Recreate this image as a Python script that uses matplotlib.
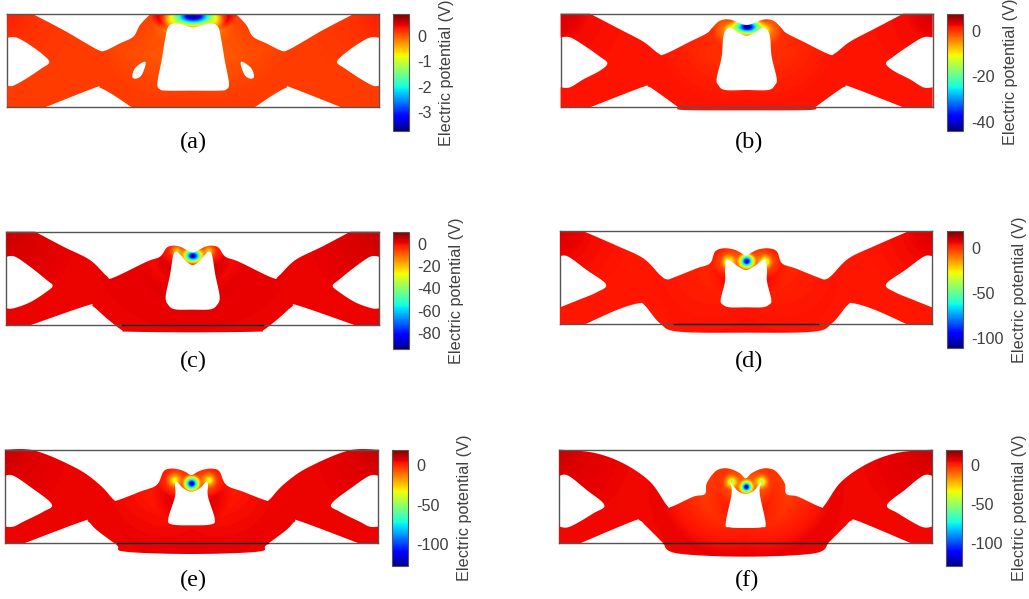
import numpy as np
import matplotlib
matplotlib.use("Agg")
import matplotlib.pyplot as plt
from matplotlib.path import Path
from matplotlib.patches import PathPatch

plt.rcParams["font.family"] = ["Liberation Sans", "DejaVu Sans"]

W, H = 1029, 599
SCALE = 3.0

names = ["(a)", "(b)", "(c)", "(d)", "(e)", "(f)"]
origins = [(0, 0), (550, 0), (0, 215), (550, 215), (0, 430), (550, 430)]
frames = [(22, 1137, 43, 322), (32, 1148, 41, 322), (19, 1137, 50, 331),
          (30, 1146, 49, 328), (15, 1134, 59, 339), (28, 1146, 59, 340)]

# left half of each shape, centre top -> around -> centre bottom
outer_a = [(580, 43), (450, 43), (420, 75), (400, 110), (360, 130), (315, 152), (295, 150), (250, 125),
           (190, 90), (100, 43), (22, 43), (22, 113), (50, 113), (90, 135), (130, 165), (148, 187),
           (125, 205), (80, 235), (40, 257), (22, 257), (22, 322), (135, 322), (285, 263), (300, 263),
           (340, 285), (395, 322), (580, 322)]
outer_b = [(590, 75), (565, 68), (545, 60), (525, 58), (505, 65), (485, 85), (470, 100), (420, 125),
           (345, 162), (325, 160), (280, 125), (210, 88), (120, 41), (32, 41), (32, 112), (60, 112),
           (100, 135), (150, 170), (172, 190), (150, 212), (100, 238), (60, 262), (32, 262), (32, 322),
           (120, 322), (275, 262), (295, 260), (320, 275), (385, 322), (400, 330), (590, 331)]
outer_c = [(578, 112), (560, 105), (540, 95), (520, 92), (500, 98), (480, 125), (440, 140), (340, 188),
           (320, 183), (270, 135), (190, 95), (105, 50), (19, 50), (19, 125), (45, 125), (90, 155),
           (140, 195), (158, 212), (140, 230), (90, 262), (40, 280), (19, 280), (19, 331), (90, 331),
           (260, 272), (280, 275), (320, 310), (365, 345), (385, 350), (578, 352)]
outer_d = [(588, 122), (570, 112), (550, 103), (520, 100), (495, 110), (480, 145), (440, 160), (370, 188),
           (350, 193), (330, 180), (280, 130), (200, 92), (115, 55), (100, 49), (30, 49), (30, 123),
           (55, 125), (110, 165), (168, 208), (140, 232), (85, 255), (30, 277), (30, 328), (105, 328),
           (200, 285), (265, 265), (285, 272), (330, 325), (385, 350), (588, 353)]
outer_e = [(574, 135), (555, 125), (535, 118), (510, 116), (490, 125), (470, 165), (420, 185), (355, 210),
           (340, 208), (300, 165), (230, 115), (105, 62), (15, 59), (15, 137), (40, 137), (90, 170),
           (155, 222), (130, 245), (70, 275), (40, 290), (15, 290), (15, 339), (75, 339), (245, 275),
           (265, 275), (290, 300), (350, 345), (375, 365), (574, 372)]
outer_f = [(587, 145), (570, 130), (545, 118), (520, 115), (495, 125), (470, 160), (465, 192), (430, 200),
           (365, 230), (350, 225), (300, 155), (220, 100), (130, 68), (28, 59), (28, 137), (55, 137),
           (110, 180), (163, 225), (130, 250), (60, 290), (28, 290), (28, 340), (90, 340), (245, 275),
           (270, 272), (290, 290), (340, 340), (380, 370), (587, 380)]
outers = [outer_a, outer_b, outer_c, outer_d, outer_e, outer_f]

hole_a = [(580, 82), (530, 70), (505, 80), (495, 120), (485, 180), (472, 250), (480, 268), (500, 272), (580, 272)]
hole_b = [(590, 107), (565, 98), (545, 84), (530, 88), (520, 110), (515, 170), (500, 235), (505, 255), (525, 270), (590, 270)]
hole_c = [(578, 150), (560, 140), (542, 120), (530, 110), (520, 120), (510, 180), (497, 245), (505, 270), (525, 283), (578, 284)]
hole_d = [(588, 165), (565, 155), (545, 140), (530, 135), (525, 165), (525, 200), (512, 255), (520, 270), (540, 277), (588, 277)]
hole_e = [(574, 185), (550, 175), (530, 155), (525, 165), (525, 200), (505, 265), (515, 283), (574, 286)]
hole_f = [(587, 192), (565, 184), (548, 165), (540, 155), (545, 190), (527, 280), (540, 292), (587, 294)]
holes = [hole_a, hole_b, hole_c, hole_d, hole_e, hole_f]

small_hole_a = [(430, 186), (437, 192), (425, 225), (408, 236), (397, 230), (405, 205)]

tip_y = [48, 80, 122, 138, 160, 170]
tip_squash = [2.2, 1.7, 1.3, 1.05, 1.0, 1.0]
tip_r = [[0, 20, 40, 55, 70, 90, 105, 130, 300],
         [0, 10, 20, 30, 38, 46, 60, 90, 200],
         [0, 6, 12, 18, 24, 30, 36, 45, 70, 120, 300],
         [0, 6, 12, 18, 24, 30, 45, 80, 130, 300],
         [0, 6, 12, 18, 24, 30, 45, 80, 130, 300],
         [0, 5, 10, 15, 20, 26, 45, 80, 130, 300]]
tip_v = [[-3.5, -3.0, -1.8, -0.9, -0.3, 0.5, 0.8, 0.35, 0.15],
         [-42, -36, -24, -13, -6, 1, 6, 4, 2],
         [-90, -78, -60, -40, -22, -8, 2, 7, 8, 3, 1],
         [-105, -85, -55, -28, -8, 6, 9, 12, 7, 4],
         [-122, -100, -65, -35, -10, 6, 9, 12, 7, 5],
         [-125, -95, -60, -30, -8, 6, 9, 13, 7, 5]]

corner_dx = [75, 55, 48, 55, 52, 45]
corner_y = [75, 88, 108, 140, 150, 155]
corner_r = [0, 8, 15, 25, 50, 120, 220]
corner_v = [[-0.9, -0.75, -0.6, -0.4, -0.25, -0.1, 0],
            [-18, -14, -10, -7, -3, -1, 0],
            [-30, -24, -16, -10, -4, -1, 0],
            [-55, -40, -26, -14, -6, -3, 0],
            [-50, -38, -25, -14, -6, -3, 0],
            [-60, -44, -28, -16, -13, -8, 0]]

arm_r = [0, 80, 220]
arm_v = [[0.15, 0.05, 0], [2, 0.5, 0], [3, 1.5, 0], [5, 2, 0], [5, 2, 0], [5, 2, 0]]

vmins = [-3.74, -44, -94.6, -111, -127.7, -130]
vmaxs = [0.86, 7.8, 11, 19, 19.3, 19.7]
ticks = [[0, -1, -2, -3], [0, -20, -40], [0, -20, -40, -60, -80],
         [0, -50, -100], [0, -50, -100], [0, -50, -100]]
cbar_boxes = [(1180, 1228, 43, 392), (1192, 1240, 41, 392), (1180, 1228, 50, 403),
              (1190, 1238, 49, 398), (1177, 1225, 59, 409), (1189, 1237, 59, 409)]
label_x = [1317, 1360, 1347, 1385, 1370, 1385]
caption_pos = [(580, 426), (597, 426), (580, 440), (597, 440), (580, 451), (592, 451)]
dark_bottom = [None, None, (365, 790), (372, 805), (350, 803), (340, 830)]


def smooth(points, left, right, top, bottom, steps=8):
    # Catmull-Rom through the read points, frame corners stay sharp
    pts = []
    for x, y in points:
        pts.append((x, y))
        if x <= left or x >= right or y <= top or y == bottom:
            pts.append((x, y))
    pts = np.array(pts, dtype=float)
    t = np.linspace(0, 1, steps, endpoint=False)[:, None]
    p0, p1, p2, p3 = np.roll(pts, 1, axis=0), pts, np.roll(pts, -1, axis=0), np.roll(pts, -2, axis=0)
    out = []
    for a, b, c, d in zip(p0, p1, p2, p3):
        if np.all(b == c):
            continue
        out.append(0.5 * (2 * b + (c - a) * t + (2 * a - 5 * b + 4 * c - d) * t ** 2
                          + (3 * b - a - 3 * c + d) * t ** 3))
    return np.vstack(out)


def mirror(half, c):
    half = np.array(half, dtype=float)
    right = half[::-1].copy()
    right[:, 0] = 2 * c - right[:, 0]
    return np.vstack([half, right[1:-1]])


def to_path(loops):
    verts, codes = [], []
    for loop, flip in loops:
        if flip:
            loop = loop[::-1]
        verts.extend(loop.tolist())
        verts.append(loop[0].tolist())
        codes += [Path.MOVETO] + [Path.LINETO] * (len(loop) - 1) + [Path.CLOSEPOLY]
    return Path(verts, codes)


fig = plt.figure(figsize=(W / 100, H / 100), dpi=100, facecolor="white")

for i in range(6):
    ox, oy = origins[i]
    left, right, top, bottom = frames[i]
    c = (left + right) / 2
    ax_w, ax_h = 390, 160
    ax = fig.add_axes([ox / W, 1 - (oy + ax_h) / H, ax_w / W, ax_h / H])
    ax.set_xlim(0, ax_w * SCALE)
    ax.set_ylim(ax_h * SCALE, 0)
    ax.axis("off")

    # frame sides sit behind the shape
    ax.plot([left, left], [top, bottom], color="#555555", lw=1.0, zorder=1)
    ax.plot([right, right], [top, bottom], color="#555555", lw=1.0, zorder=1)

    xs = np.arange(0, ax_w * SCALE, 1.5)
    ys = np.arange(0, ax_h * SCALE, 1.5)
    X, Y = np.meshgrid(xs, ys)
    field = np.interp(np.hypot(X - c, (Y - tip_y[i]) * tip_squash[i]), tip_r[i], tip_v[i])
    field = field + np.interp(np.hypot(np.abs(X - c) - corner_dx[i], Y - corner_y[i]), corner_r, corner_v[i])
    field = field + np.interp(np.hypot(np.abs(X - c) - (c - left), Y - top), arm_r, arm_v[i])

    im = ax.imshow(field, extent=[0, ax_w * SCALE, ax_h * SCALE, 0], cmap="jet",
                   vmin=vmins[i], vmax=vmaxs[i], interpolation="bilinear", aspect="auto", zorder=2)
    ax.set_xlim(0, ax_w * SCALE)
    ax.set_ylim(ax_h * SCALE, 0)

    loops = [(smooth(mirror(outers[i], c), left, right, top, bottom), False),
             (smooth(mirror(holes[i], c), -1, 9999, -1, -1), True)]
    if i == 0:
        small = np.array(small_hole_a, dtype=float)
        small_r = small.copy()
        small_r[:, 0] = 2 * c - small_r[:, 0]
        loops.append((smooth(small, -1, 9999, -1, -1), False))
        loops.append((smooth(small_r, -1, 9999, -1, -1), True))
    clip = PathPatch(to_path(loops), transform=ax.transData, fc="none", ec="none")
    ax.add_patch(clip)
    im.set_clip_path(clip)

    ax.plot([left, right], [top, top], color="#555555", lw=1.0, zorder=3)
    ax.plot([left, right], [bottom, bottom], color="#555555", lw=1.0, zorder=3)
    if dark_bottom[i] is not None:
        ax.plot(dark_bottom[i], [bottom, bottom], color="#201010", lw=1.0, zorder=4)

    ax.text(caption_pos[i][0], caption_pos[i][1], names[i], ha="center", va="center",
            family="Liberation Serif", fontsize=17.5, color="black")

    x0, x1, y0, y1 = cbar_boxes[i]
    cax = fig.add_axes([(ox + x0 / SCALE) / W, 1 - (oy + y1 / SCALE) / H,
                        (x1 - x0) / SCALE / W, (y1 - y0) / SCALE / H])
    cb = fig.colorbar(im, cax=cax, ticks=ticks[i])
    cb.ax.tick_params(length=0, labelsize=11.7, labelcolor="#404040", pad=6)
    cb.ax.set_yticklabels([str(t) for t in ticks[i]])
    cb.outline.set_edgecolor("#555555")
    cb.outline.set_linewidth(0.8)
    cb.set_label("Electric potential (V)", fontsize=11.7, color="#404040")
    cb.ax.yaxis.set_label_coords((label_x[i] - x0) / (x1 - x0), 0.5)

fig.savefig("out.png", dpi=100)
